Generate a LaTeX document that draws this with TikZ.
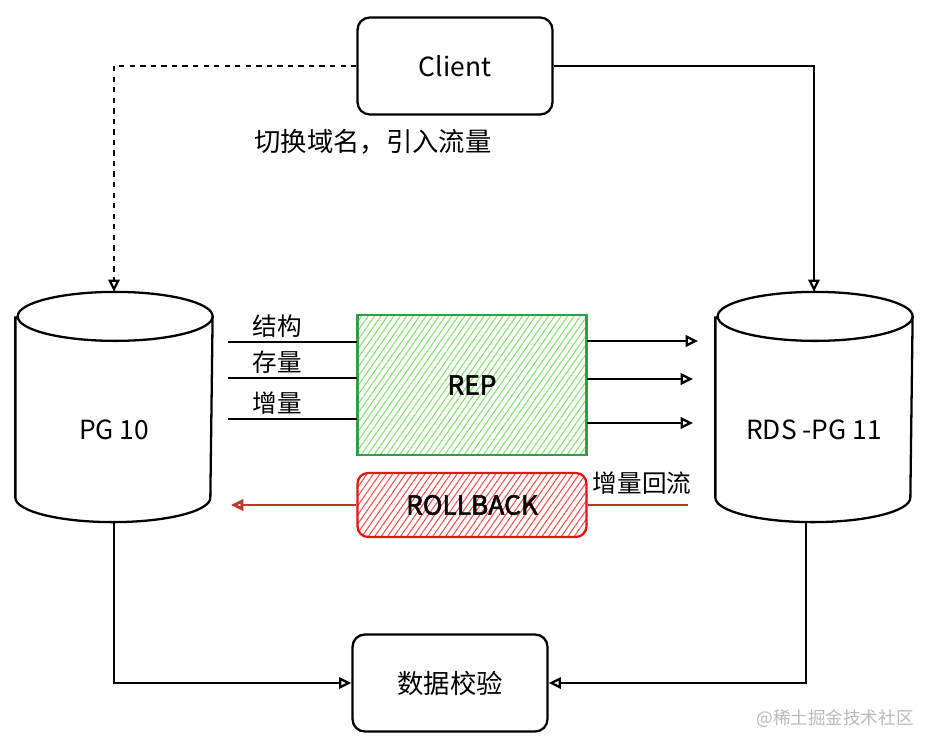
\documentclass[tikz,border=0pt]{standalone}
\usepackage{fontspec}
\setmainfont{Noto Sans CJK SC}[AutoFakeBold=2]
\usetikzlibrary{arrows.meta, positioning, patterns.meta, calc}
\definecolor{repgreen}{RGB}{47,158,68}
\definecolor{rephatch}{RGB}{130,228,110}
\definecolor{rbred}{RGB}{230,20,20}
\definecolor{rbhatch}{RGB}{240,80,80}
\definecolor{rbline}{RGB}{190,55,45}
\definecolor{markgray}{RGB}{185,185,185}
\tikzset{
	>={Triangle[open, length=7pt, width=6.5pt]},
	txt/.style = {font=\fontsize{15}{17}\selectfont},
	lbl/.style = {font=\fontsize{14}{16}\selectfont, inner sep=2pt},
	box/.style = {draw, rounded corners=7pt, minimum width=3.9cm, minimum height=1.94cm, txt},
	dbbox/.style = {inner sep=0pt, minimum width=3.9cm, minimum height=4.56cm,
		text height=38pt, text depth=1pt, txt},
	hatchbox/.style = {draw=#1, pattern={Lines[angle=55, distance=3pt, line width=0.6pt]},
		minimum width=4.58cm, font=\bfseries\fontsize{15}{17}\selectfont}
}
% cylinder round a dbbox node
\newcommand{\dbdraw}[1]{%
	\draw ([yshift=-0.49cm]#1.north west) -- ([yshift=0.49cm]#1.south west)
		arc[start angle=180, end angle=360, x radius=1.95cm, y radius=0.49cm]
		-- ([yshift=-0.49cm]#1.north east)
		arc[start angle=0, end angle=180, x radius=1.95cm, y radius=0.49cm]
		arc[start angle=180, end angle=360, x radius=1.95cm, y radius=0.49cm];}

\begin{document}
\begin{tikzpicture}[x=0.02cm, y=-0.02cm, line width=1.3pt]
	\useasboundingbox (0,0) rectangle (929,750);
	
	% nodes
	\node[box] (client) at (455,66) {Client};
	\node[dbbox] (pg) at (114,407) {PG 10};
	\node[dbbox] (rds) at (814,407) {RDS -PG 11};
	\dbdraw{pg}
	\dbdraw{rds}
	\node[hatchbox=repgreen, pattern color=rephatch, minimum height=2.8cm] (rep) at (472,385) {REP};
	\node[hatchbox=rbred, pattern color=rbhatch, rounded corners=6pt, minimum height=1.28cm] (rollback) at (472,505) {ROLLBACK};
	\node[box] (check) at (450,683) {数据校验};
	
	% traffic from client
	\draw[dashed, ->] (client.west) -| (pg.north);
	\draw[->] (client.east) -| (rds.north);
	\node[lbl, font=\fontsize{15}{17}\selectfont] (switch) at (373,142) {切换域名，引入流量};
	
	% replication
	\coordinate (s1) at (228,342);
	\coordinate (s2) at (228,378);
	\coordinate (s3) at (228,419);
	\draw (s1) -- node[lbl, above, pos=0.38] {结构} (s1 -| rep.west);
	\draw (s2) -- node[lbl, above, pos=0.38] {存量} (s2 -| rep.west);
	\draw (s3) -- node[lbl, above, pos=0.38] {增量} (s3 -| rep.west);
	\coordinate (e1) at (698,341);
	\coordinate (e2) at (693,379);
	\coordinate (e3) at (693,423);
	\draw[->] (e1 -| rep.east) -- (e1);
	\draw[->] (e2 -| rep.east) -- (e2);
	\draw[->] (e3 -| rep.east) -- (e3);
	
	% rollback
	\coordinate (rb) at (688,505);
	\coordinate (lb) at (231,505);
	\draw[rbline, line width=1.6pt] (rb) -- (rollback.east);
	\draw[rbline, line width=1.6pt, ->] (rollback.west) -- (lb);
	\node[lbl] (back) at (642,483) {增量回流};
	
	% check
	\draw[->] (pg.south) |- (check.west);
	\draw[->] ([xshift=-0.16cm]rds.south) |- (check.east);
	
	\node[markgray, font=\fontsize{10}{12}\selectfont] (mark) at (835,719) {@稀土掘金技术社区};
\end{tikzpicture}
\end{document}
